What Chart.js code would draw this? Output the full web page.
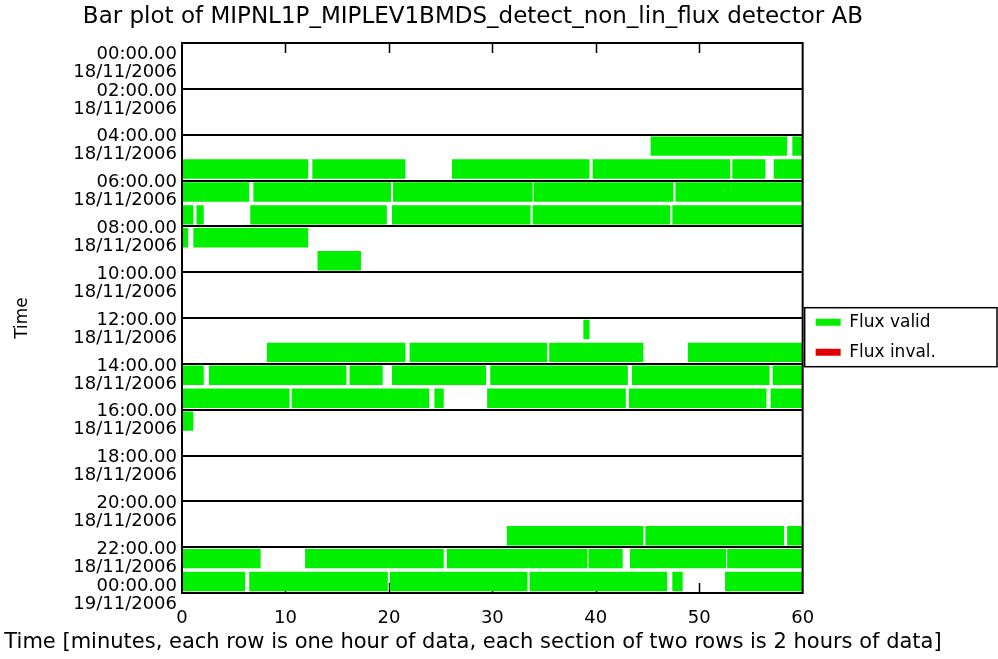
<!DOCTYPE html>
<html>
<head>
<meta charset="utf-8">
<script src="https://cdn.jsdelivr.net/npm/chart.js@4/dist/chart.umd.min.js"></script>
<style>
  html, body { margin: 0; padding: 0; background: #ffffff; }
  #wrap { width: 998px; height: 659px; }
</style>
</head>
<body>
<div id="wrap"><canvas id="c" width="998" height="659"></canvas></div>
<script>
// ---- Data ----
const chartTitle = 'Bar plot of MIPNL1P_MIPLEV1BMDS_detect_non_lin_flux detector AB';
const xTitle = 'Time [minutes, each row is one hour of data, each section of two rows is 2 hours of data]';
const yTitle = 'Time';
const seriesNames = ['Flux valid', 'Flux inval.'];

// section tick labels (every 2 hours)
const sectionTimes = ['00:00.00','02:00.00','04:00.00','06:00.00','08:00.00','10:00.00','12:00.00',
                      '14:00.00','16:00.00','18:00.00','20:00.00','22:00.00','00:00.00'];
const sectionDates = ['18/11/2006','18/11/2006','18/11/2006','18/11/2006','18/11/2006','18/11/2006','18/11/2006',
                      '18/11/2006','18/11/2006','18/11/2006','18/11/2006','18/11/2006','19/11/2006'];
const minuteTicks = [0, 10, 20, 30, 40, 50, 60];

// valid-flux segments: hour row, start minute, end minute
const validRow   = [4,4, 5,5,5,5,5,5, 6,6,6,6,6, 7,7,7,7,7,7, 8,8, 9, 12,
                    13,13,13,13, 14,14,14,14,14,14,14, 15,15,15,15,15,15, 16,
                    21,21,21, 22,22,22,22,22,22, 23,23,23,23,23,23];
const validStart = [45.3,59.0, 0,12.6,26.1,39.7,53.2,57.2, 0,6.9,20.4,34.0,47.7, 0,1.4,6.6,20.3,33.9,47.4, 0,1.1, 13.1, 38.8,
                    8.2,22.0,35.5,48.9, 0,2.6,16.2,20.3,29.8,43.5,57.1, 0,10.6,24.4,29.5,43.2,56.9, 0,
                    31.4,44.8,58.5, 0,11.9,25.6,39.3,43.3,52.7, 0,6.5,20.1,33.6,47.4,52.5];
const validEnd   = [58.5,60, 12.2,21.6,39.4,53.0,56.4,60, 6.5,20.2,33.9,47.5,60, 1.1,2.1,19.8,33.7,47.2,60, 0.6,12.2, 17.3, 39.4,
                    21.6,35.3,44.6,60, 2.1,15.9,19.4,29.4,43.1,56.8,60, 10.4,23.9,25.3,42.9,56.5,60, 1.1,
                    44.6,58.2,60, 7.6,25.3,39.2,42.6,52.6,60, 6.1,19.9,33.4,46.9,48.4,60];

// invalid-flux segments (none in this period)
const invalidRow = [];
const invalidStart = [];
const invalidEnd = [];

// ---- Build datasets ----
function segs(rows, starts, ends) {
  return rows.map((r, i) => ({ y: r + 0.5, x: [starts[i], ends[i]] }));
}

const FONT = 'DejaVu Sans';
const GREEN = '#00f000';
const RED = '#e00000';

const innerTicks = {
  id: 'innerTicks',
  beforeDatasetsDraw(chart) {
    const xs = chart.scales.x, a = chart.chartArea, ctx = chart.ctx;
    ctx.save();
    ctx.strokeStyle = '#000';
    ctx.lineWidth = 1.5;
    xs.ticks.forEach((t, i) => {
      if (i === 0 || i === xs.ticks.length - 1) return;
      const px = Math.round(xs.getPixelForValue(t.value)) + 0.5;
      ctx.beginPath();
      ctx.moveTo(px, a.top); ctx.lineTo(px, a.top + 10);
      ctx.moveTo(px, a.bottom); ctx.lineTo(px, a.bottom - 10);
      ctx.stroke();
    });
    ctx.restore();
  }
};

const frame = {
  id: 'frame',
  afterDatasetsDraw(chart) {
    const a = chart.chartArea, ctx = chart.ctx;
    ctx.save();
    ctx.strokeStyle = '#000';
    ctx.lineWidth = 2;
    ctx.strokeRect(a.left, a.top, a.right - a.left, a.bottom - a.top);
    ctx.restore();
  }
};

const legendBorder = {
  id: 'legendBorder',
  afterDraw(chart) {
    const lg = chart.legend;
    if (!lg || !lg.legendHitBoxes || !lg.legendHitBoxes.length) return;
    const hb = lg.legendHitBoxes;
    const top = hb[0].top - 6;
    const bottom = hb[hb.length - 1].top + hb[hb.length - 1].height + 6;
    const left = lg.left + 2;
    const right = chart.width - 1;
    const ctx = chart.ctx;
    ctx.save();
    ctx.strokeStyle = '#000';
    ctx.lineWidth = 1.5;
    ctx.strokeRect(left, top, right - left, bottom - top);
    ctx.restore();
  }
};

new Chart(document.getElementById('c'), {
  type: 'bar',
  data: {
    datasets: [
      { label: seriesNames[0], data: segs(validRow, validStart, validEnd),
        backgroundColor: GREEN, borderWidth: 0, grouped: false },
      { label: seriesNames[1], data: segs(invalidRow, invalidStart, invalidEnd),
        backgroundColor: RED, borderWidth: 0, grouped: false }
    ]
  },
  options: {
    indexAxis: 'y',
    responsive: false,
    animation: false,
    devicePixelRatio: 1,
    categoryPercentage: 1,
    barPercentage: 0.85,
    layout: { padding: { left: 0, right: 52, top: 0, bottom: 0 } },
    scales: {
      x: {
        type: 'linear',
        min: minuteTicks[0], max: minuteTicks[minuteTicks.length - 1],
        afterBuildTicks(scale) { scale.ticks = minuteTicks.map(v => ({ value: v })); },
        afterFit(scale) { scale.height = 36.8; },
        grid: { display: false },
        border: { display: true, color: '#000', width: 2 },
        ticks: { autoSkip: false, maxRotation: 0, padding: 7, color: '#000',
                 font: { family: FONT, size: 18 } }
      },
      y: {
        type: 'linear',
        reverse: true,
        offset: false,
        min: 0, max: 24,
        afterBuildTicks(scale) { scale.ticks = sectionTimes.map((t, i) => ({ value: i * 2 })); },
        afterFit(scale) { scale.width = 182; },
        grid: { color: '#000', lineWidth: 2, drawTicks: false, offset: false },
        border: { display: true, color: '#000', width: 2 },
        ticks: {
          autoSkip: false, padding: 5, color: '#000', labelOffset: 11,
          font: { family: FONT, size: 18, lineHeight: 1 },
          callback(value, index) {
            const t = sectionTimes[index], d = sectionDates[index];
            if (index === 0) return ['', t, d];
            if (index === sectionTimes.length - 1) return [t, d, ''];
            return [t, d];
          }
        },
        title: { display: true, text: yTitle, color: '#000',
                 font: { family: FONT, size: 17 }, padding: { top: 12, bottom: 0 } }
      }
    },
    plugins: {
      title: { display: true, text: chartTitle, color: '#000',
               font: { family: FONT, size: 23, weight: 'normal' },
               padding: { top: 3, bottom: 12.4 } },
      subtitle: { display: true, position: 'bottom', text: xTitle, color: '#000',
                  font: { family: FONT, size: 21, weight: 'normal' },
                  padding: { top: 0, bottom: 4 } },
      legend: {
        position: 'right',
        align: 'center',
        fullSize: false,
        title: { display: true, text: '', font: { size: 12 }, padding: 12 },
        labels: { boxWidth: 25, boxHeight: 7, padding: 13, color: '#000',
                  font: { family: FONT, size: 17 } }
      },
      tooltip: { enabled: false }
    }
  },
  plugins: [innerTicks, frame, legendBorder]
});
</script>
</body>
</html>
